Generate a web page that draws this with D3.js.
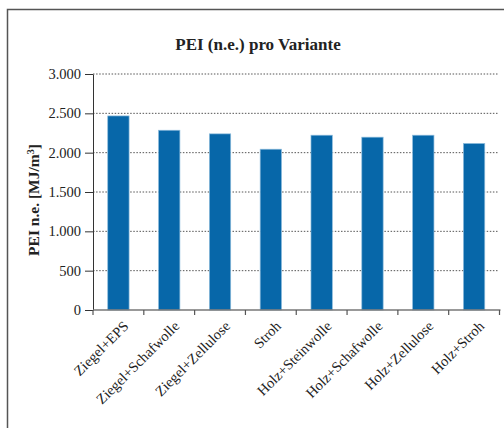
<!DOCTYPE html>
<html>
<head>
    <meta charset="utf-8">
    <style>
        body { margin: 0; background: white; }
        svg { display: block; font-family: "Liberation Serif", "DejaVu Serif", serif; }
        .axis text { font-size: 14.5px; fill: #222; font-family: "Liberation Serif", serif; }
    </style>
</head>
<body>
    <svg width="504" height="428"></svg>

<script src="https://d3js.org/d3.v7.min.js"></script>
<script>
    // data
    let categories = ["Ziegel+EPS", "Ziegel+Schafwolle", "Ziegel+Zellulose", "Stroh",
        "Holz+Steinwolle", "Holz+Schafwolle", "Holz+Zellulose", "Holz+Stroh"]
    let values = [2467, 2285, 2239, 2044, 2222, 2197, 2222, 2117]
    let yTicks = [0, 500, 1000, 1500, 2000, 2500, 3000]
    let yTickLabels = ["0", "500", "1.000", "1.500", "2.000", "2.500", "3.000"]

    let svg = d3.select("svg")

    let plotLeft = 93, plotRight = 499.5, plotTop = 74, plotBottom = 310

    // frame round the chart
    svg.append("rect")
        .attr("x", 7.5)
        .attr("y", 9.5)
        .attr("width", 520)
        .attr("height", 440)
        .style("fill", "none")
        .style("stroke", "#555")
        .style("stroke-width", 1.5)

    let x = d3.scaleBand()
        .domain(categories)
        .range([plotLeft, plotRight])
        .paddingInner(0.58)
        .paddingOuter(0.29)

    let y = d3.scaleLinear()
        .domain([0, 3000])
        .range([plotBottom, plotTop])

    // dotted grid lines
    svg.append("g")
        .selectAll("line")
        .data(yTicks.filter(d => d > 0))
        .join("line")
        .attr("x1", plotLeft)
        .attr("x2", plotRight - 1)
        .attr("y1", d => y(d))
        .attr("y2", d => y(d))
        .style("stroke", "#555")
        .style("stroke-width", 1)
        .style("stroke-dasharray", "1.5,1.6")

    // bars
    svg.append("g")
        .selectAll("rect")
        .data(values)
        .join("rect")
        .attr("x", (d, i) => x(categories[i]))
        .attr("y", d => y(d))
        .attr("width", x.bandwidth())
        .attr("height", d => y(0) - y(d))
        .style("fill", "#0767a9")
        .style("stroke", "#8cbbdc")
        .style("stroke-width", 0.7)

    // y axis
    let yAxis = svg.append("g")
        .attr("class", "y axis")
        .attr("transform", `translate(${plotLeft},0)`)
        .call(d3.axisLeft(y)
            .tickValues(yTicks)
            .tickFormat((d, i) => yTickLabels[i])
            .tickSize(8)
            .tickSizeOuter(0)
            .tickPadding(4))
    yAxis.select(".domain").style("stroke", "#333")
    yAxis.selectAll(".tick line").style("stroke", "#333")
    yAxis.selectAll("text")
        .style("font-family", "'Liberation Serif', serif")
        .style("font-size", "14.5px")
        .style("fill", "#222")

    // x axis: ticks sit between the categories
    let xEdges = d3.range(categories.length + 1).map(i => plotLeft + i * x.step())
    svg.append("line")
        .attr("x1", plotLeft)
        .attr("x2", plotRight + 1)
        .attr("y1", y(0))
        .attr("y2", y(0))
        .style("stroke", "#777")
        .style("stroke-width", 1.6)
    svg.append("g")
        .selectAll("line")
        .data(xEdges)
        .join("line")
        .attr("x1", d => d)
        .attr("x2", d => d)
        .attr("y1", y(0))
        .attr("y2", y(0) + 5)
        .style("stroke", "#555")
        .style("stroke-width", 1.2)

    svg.append("g")
        .attr("class", "axis")
        .selectAll("text")
        .data(categories)
        .join("text")
        .attr("transform", d => `translate(${x(d) + x.bandwidth() / 2 + 11},${y(0) + 17}) rotate(-45)`)
        .style("text-anchor", "end")
        .text(d => d)

    // title
    svg.append("text")
        .attr("x", 258)
        .attr("y", 50)
        .style("text-anchor", "middle")
        .style("font-size", "17px")
        .style("font-weight", "bold")
        .style("fill", "#222")
        .text("PEI (n.e.) pro Variante")

    // y axis title
    let yTitle = svg.append("text")
        .attr("transform", `translate(39,${(plotTop + plotBottom) / 2 + 8}) rotate(-90)`)
        .style("text-anchor", "middle")
        .style("font-size", "15.5px")
        .style("font-weight", "bold")
        .style("fill", "#222")
    yTitle.append("tspan").text("PEI n.e. [MJ/m")
    yTitle.append("tspan").attr("baseline-shift", "super").style("font-size", "10px").text("3")
    yTitle.append("tspan").text("]")
</script>
</body>
</html>
